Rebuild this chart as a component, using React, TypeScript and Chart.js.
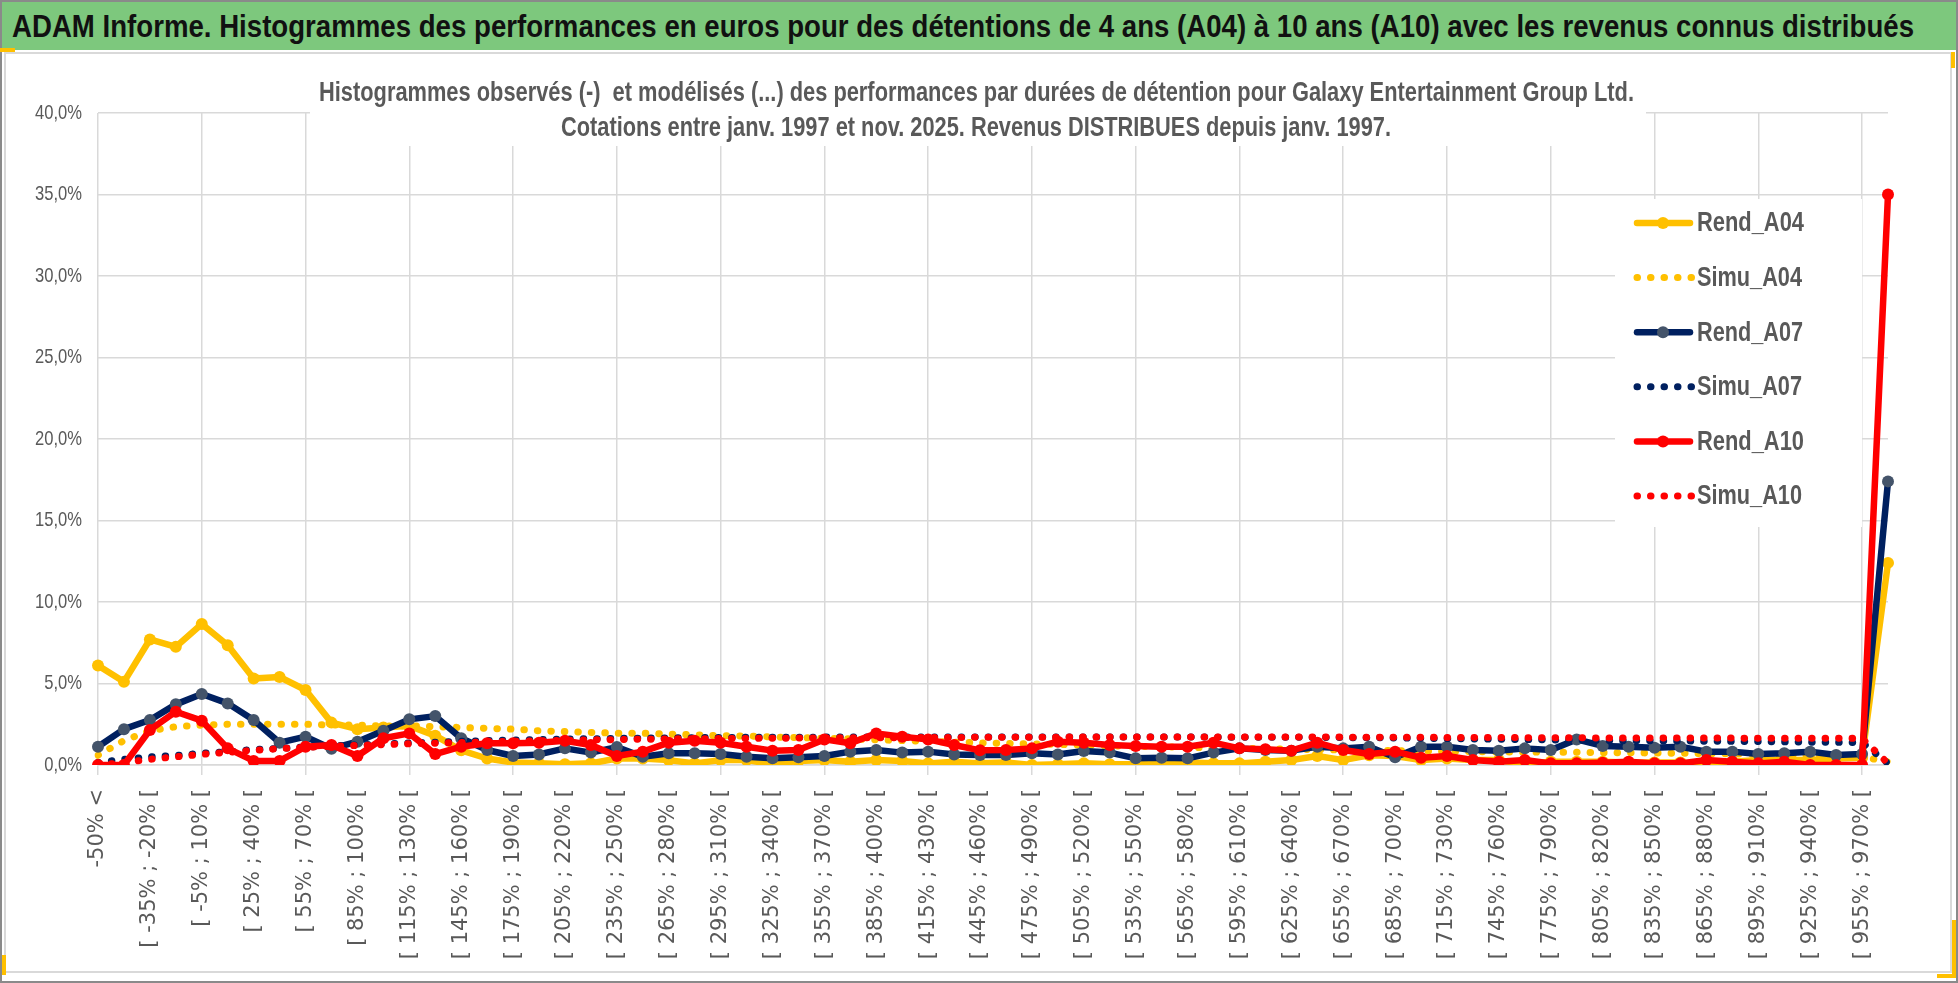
import React, { useEffect, useRef } from 'react';
import { Chart, registerables } from 'chart.js';

Chart.register(...registerables);

// ---------- DATA ----------
const FIRST_LABEL = '-50% <';
const BIN_LOWER_START = -50;
const BIN_WIDTH = 15;
const BIN_COUNT = 69;
const categories: string[] = [FIRST_LABEL];
for (let k = 0; k < BIN_COUNT; k++) {
  const a = BIN_LOWER_START + BIN_WIDTH * k;
  categories.push(`[ ${a}% ; ${a + BIN_WIDTH}% [`);
}

const yTicks = [0, 5, 10, 15, 20, 25, 30, 35, 40];

const rendA04 = [
  6.1, 5.1, 7.7, 7.25, 8.65, 7.35, 5.3, 5.4, 4.6, 2.6,
  2.2, 2.3, 2.4, 1.8, 0.9, 0.4, 0.15, 0.1, 0.05, 0.1,
  0.4, 0.4, 0.3, 0.1, 0.3, 0.3, 0.05, 0.25, 0.3, 0.2,
  0.3, 0.25, 0.1, 0.2, 0.1, 0.15, 0.0, 0.05, 0.1, 0.05,
  0.05, 0.1, 0.15, 0.1, 0.1, 0.2, 0.3, 0.55, 0.3, 0.6,
  0.55, 0.3, 0.4, 0.3, 0.3, 0.05, 0.2, 0.2, 0.2, 0.15,
  0.15, 0.15, 0.0, 0.2, 0.3, 0.3, 0.3, 0.4, 0.45, 12.4,
];
const simuA04 = [
  0.6, 1.5, 2.1, 2.35, 2.45, 2.5, 2.5, 2.5, 2.5, 2.45,
  2.45, 2.4, 2.4, 2.35, 2.3, 2.25, 2.2, 2.1, 2.05, 2.0,
  1.95, 1.95, 1.9, 1.85, 1.8, 1.78, 1.72, 1.68, 1.64, 1.6,
  1.55, 1.5, 1.45, 1.4, 1.36, 1.33, 1.3, 1.26, 1.22, 1.18,
  1.15, 1.12, 1.08, 1.05, 1.02, 1.0, 0.97, 0.95, 0.92, 0.9,
  0.88, 0.86, 0.84, 0.82, 0.8, 0.8, 0.78, 0.78, 0.76, 0.75,
  0.74, 0.72, 0.7, 0.68, 0.65, 0.62, 0.58, 0.55, 0.5, 0.2,
];
const rendA07 = [
  1.12, 2.2, 2.76, 3.72, 4.36, 3.78, 2.76, 1.37, 1.74, 1.0,
  1.43, 2.1, 2.8, 3.0, 1.64, 0.92, 0.55, 0.65, 1.02, 0.76,
  1.1, 0.51, 0.72, 0.72, 0.67, 0.51, 0.41, 0.47, 0.55, 0.82,
  0.92, 0.76, 0.82, 0.65, 0.61, 0.61, 0.72, 0.65, 0.86, 0.76,
  0.41, 0.45, 0.41, 0.76, 1.02, 0.92, 0.88, 1.12, 1.02, 1.12,
  0.47, 1.12, 1.12, 0.92, 0.88, 1.02, 0.92, 1.57, 1.17, 1.12,
  1.06, 1.12, 0.82, 0.82, 0.67, 0.72, 0.82, 0.61, 0.67, 17.4,
];
const simuA07 = [
  0.15, 0.35, 0.5, 0.58, 0.72, 0.82, 0.95, 1.02, 1.1, 1.17,
  1.23, 1.3, 1.35, 1.4, 1.45, 1.5, 1.53, 1.56, 1.59, 1.61,
  1.63, 1.65, 1.66, 1.68, 1.69, 1.7, 1.7, 1.71, 1.71, 1.72,
  1.72, 1.72, 1.72, 1.72, 1.72, 1.72, 1.72, 1.72, 1.72, 1.72,
  1.72, 1.72, 1.72, 1.71, 1.71, 1.7, 1.7, 1.69, 1.68, 1.67,
  1.66, 1.64, 1.62, 1.6, 1.58, 1.56, 1.54, 1.52, 1.5, 1.49,
  1.48, 1.47, 1.46, 1.45, 1.44, 1.42, 1.4, 1.39, 1.38, 0.1,
];
const rendA10 = [
  0.0, 0.0, 2.15, 3.27, 2.72, 1.02, 0.25, 0.25, 1.12, 1.23,
  0.55, 1.64, 1.94, 0.67, 1.12, 1.33, 1.33, 1.37, 1.49, 1.23,
  0.55, 0.82, 1.37, 1.49, 1.37, 1.12, 0.88, 0.92, 1.57, 1.33,
  1.94, 1.74, 1.57, 1.23, 0.9, 0.92, 1.02, 1.43, 1.37, 1.23,
  1.17, 1.12, 1.12, 1.37, 1.02, 0.96, 0.88, 1.37, 0.92, 0.67,
  0.82, 0.45, 0.55, 0.31, 0.2, 0.31, 0.1, 0.1, 0.14, 0.2,
  0.1, 0.1, 0.31, 0.2, 0.1, 0.2, 0.0, 0.0, 0.0, 35.0,
];
const simuA10 = [
  0.0, 0.15, 0.35, 0.5, 0.65, 0.78, 0.9, 1.0, 1.08, 1.15,
  1.2, 1.25, 1.3, 1.34, 1.38, 1.42, 1.46, 1.49, 1.52, 1.54,
  1.56, 1.58, 1.6, 1.61, 1.62, 1.63, 1.64, 1.65, 1.66, 1.67,
  1.67, 1.68, 1.69, 1.69, 1.7, 1.7, 1.71, 1.71, 1.72, 1.72,
  1.72, 1.72, 1.72, 1.72, 1.72, 1.72, 1.72, 1.72, 1.71, 1.71,
  1.7, 1.7, 1.69, 1.69, 1.68, 1.68, 1.67, 1.67, 1.66, 1.66,
  1.66, 1.65, 1.65, 1.65, 1.64, 1.64, 1.64, 1.64, 1.63, 0.1,
];

const bannerText =
  'ADAM Informe. Histogrammes des performances en euros pour des détentions de 4 ans (A04) à 10 ans (A10) avec les revenus connus distribués';
const titleLines = [
  'Histogrammes observés (-)  et modélisés (...) des performances par durées de détention pour Galaxy Entertainment Group Ltd.',
  'Cotations entre janv. 1997 et nov. 2025. Revenus DISTRIBUES depuis janv. 1997.',
];

// ---------- STYLE ----------
const YELLOW = '#FFC000';
const NAVY = '#002060';
const NAVY_MARK = '#44546A';
const RED = '#FF0000';
const GRID = '#d9d9d9';
const TEXT = '#595959';
const NARROW = '"Liberation Sans Narrow", "Liberation Sans"';

type LegendItem = { label: string; color: string; marker?: string; dotted: boolean; w: number };
const legendItems: LegendItem[] = [
  { label: 'Rend_A04', color: YELLOW, marker: YELLOW, dotted: false, w: 107 },
  { label: 'Simu_A04', color: YELLOW, dotted: true, w: 105 },
  { label: 'Rend_A07', color: NAVY, marker: NAVY_MARK, dotted: false, w: 106 },
  { label: 'Simu_A07', color: NAVY, dotted: true, w: 105 },
  { label: 'Rend_A10', color: RED, marker: RED, dotted: false, w: 107 },
  { label: 'Simu_A10', color: RED, dotted: true, w: 105 },
];

const fmtPct = (v: number) => v.toFixed(1).replace('.', ',') + '%';

function drawFitted(ctx: CanvasRenderingContext2D, text: string, x: number, y: number, width: number) {
  const w = ctx.measureText(text).width;
  const s = width / w;
  ctx.save();
  ctx.translate(x, y);
  ctx.scale(s, 1);
  ctx.textAlign = 'left';
  ctx.fillText(text, 0, 0);
  ctx.restore();
}

const overlayPlugin = {
  id: 'overlay',
  afterDraw(chart: any) {
    const ctx: CanvasRenderingContext2D = chart.ctx;
    const yScale = chart.scales.y;
    ctx.save();

    // y tick labels (condensed, right aligned at x = 82)
    ctx.fillStyle = TEXT;
    ctx.font = '21px "Liberation Sans"';
    ctx.textBaseline = 'middle';
    const ref = ctx.measureText('15,0%').width;
    const sx = 47 / ref;
    yTicks.forEach((v) => {
      const label = fmtPct(v);
      const w = ctx.measureText(label).width * sx;
      const y = yScale.getPixelForValue(v);
      ctx.save();
      ctx.translate(82 - w, y);
      ctx.scale(sx, 1);
      ctx.textAlign = 'left';
      ctx.fillText(label, 0, 0);
      ctx.restore();
    });

    // title
    ctx.fillStyle = '#ffffff';
    ctx.fillRect(310, 76, 1336, 70);
    ctx.fillStyle = TEXT;
    ctx.font = `bold 27px ${NARROW}`;
    ctx.textBaseline = 'middle';
    drawFitted(ctx, titleLines[0], 319, 94, 1315);
    drawFitted(ctx, titleLines[1], 561, 129, 830);

    // legend
    ctx.fillStyle = '#ffffff';
    ctx.fillRect(1615, 199, 247, 328);
    legendItems.forEach((it, k) => {
      const y = 223 + k * 54.6;
      ctx.strokeStyle = it.color;
      if (it.dotted) {
        ctx.lineWidth = 7;
        ctx.setLineDash([0.5, 13]);
        ctx.lineCap = 'round';
        ctx.beginPath();
        ctx.moveTo(1637, y);
        ctx.lineTo(1692, y);
        ctx.stroke();
      } else {
        ctx.lineWidth = 6.5;
        ctx.setLineDash([]);
        ctx.lineCap = 'round';
        ctx.beginPath();
        ctx.moveTo(1637, y);
        ctx.lineTo(1690, y);
        ctx.stroke();
        ctx.fillStyle = it.marker || it.color;
        ctx.beginPath();
        ctx.arc(1663, y, 6, 0, Math.PI * 2);
        ctx.fill();
      }
      ctx.setLineDash([]);
      ctx.fillStyle = TEXT;
      ctx.font = `bold 27px ${NARROW}`;
      ctx.textBaseline = 'middle';
      drawFitted(ctx, it.label, 1697, y + 1, it.w);
    });
    ctx.restore();
  },
};

function solid(label: string, data: number[], color: string, marker: string, order: number) {
  return {
    label,
    data,
    borderColor: color,
    backgroundColor: color,
    borderWidth: 6.5,
    borderJoinStyle: 'round' as const,
    borderCapStyle: 'round' as const,
    pointRadius: 6,
    pointBackgroundColor: marker,
    pointBorderColor: marker,
    pointBorderWidth: 0,
    pointHoverRadius: 6,
    tension: 0,
    fill: false,
    order,
  };
}

function dotted(label: string, data: number[], color: string, order: number) {
  return {
    label,
    data,
    borderColor: color,
    backgroundColor: color,
    borderWidth: 7,
    borderDash: [0.5, 13],
    borderCapStyle: 'round' as const,
    borderJoinStyle: 'round' as const,
    pointRadius: 0,
    tension: 0,
    fill: false,
    order,
  };
}

export default function App() {
  const canvasRef = useRef<HTMLCanvasElement | null>(null);

  useEffect(() => {
    if (!canvasRef.current) return;
    const chart = new Chart(canvasRef.current, {
      type: 'line',
      data: {
        labels: categories,
        datasets: [
          solid('Rend_A04', rendA04, YELLOW, YELLOW, 6),
          dotted('Simu_A04', simuA04, YELLOW, 5),
          solid('Rend_A07', rendA07, NAVY, NAVY_MARK, 4),
          dotted('Simu_A07', simuA07, NAVY, 3),
          solid('Rend_A10', rendA10, RED, RED, 2),
          dotted('Simu_A10', simuA10, RED, 1),
        ] as any,
      },
      options: {
        animation: false,
        responsive: false,
        maintainAspectRatio: false,
        layout: { padding: { left: 0, top: 113, right: 70, bottom: 18 } },
        plugins: {
          legend: { display: false },
          title: { display: false },
          tooltip: { enabled: false },
        },
        scales: {
          x: {
            type: 'category',
            offset: false,
            grid: {
              color: (c: any) => (c.index % 4 === 0 ? GRID : 'rgba(0,0,0,0)'),
              lineWidth: 1.5,
              tickLength: 10,
            },
            border: { display: true, color: GRID, width: 1.5 },
            ticks: {
              autoSkip: false,
              maxRotation: 90,
              minRotation: 90,
              padding: 14,
              color: TEXT,
              font: { family: '"DejaVu Sans"', size: 21 },
              callback: (_v: any, i: number) => (i % 2 === 0 ? categories[i] : ''),
            },
            afterFit: (s: any) => {
              s.height = 200;
            },
          },
          y: {
            min: yTicks[0],
            max: yTicks[yTicks.length - 1],
            afterBuildTicks: (s: any) => {
              s.ticks = yTicks.map((v) => ({ value: v }));
            },
            ticks: { display: false },
            grid: { color: GRID, lineWidth: 1.5, drawTicks: false },
            border: { display: false },
            afterFit: (s: any) => {
              s.width = 98;
            },
          },
        },
      },
      plugins: [overlayPlugin],
    } as any);
    if ((document as any).fonts && (document as any).fonts.ready) {
      (document as any).fonts.ready.then(() => chart.update());
    }
    return () => chart.destroy();
  }, []);

  return (
    <div
      style={{
        position: 'absolute',
        left: 0,
        top: 0,
        width: 1958,
        height: 983,
        background: '#ffffff',
        overflow: 'hidden',
      }}
    >
      <div
        style={{
          position: 'absolute',
          left: 0,
          top: 0,
          width: 1958,
          height: 983,
          boxSizing: 'border-box',
          border: '2px solid #8a8a8a',
        }}
      />
      <div
        style={{
          position: 'absolute',
          left: 4,
          top: 52,
          width: 1948,
          height: 921,
          boxSizing: 'border-box',
          border: '2px solid #d9d9d9',
        }}
      />
      <div style={{ position: 'absolute', left: 2, top: 2, width: 1954, height: 48, background: '#7dc87d' }}>
        <svg width={1954} height={48} style={{ display: 'block' }}>
          <text
            x={10}
            y={35}
            textLength={1902}
            lengthAdjust="spacingAndGlyphs"
            fontFamily="Liberation Sans Narrow, Liberation Sans"
            fontWeight="bold"
            fontSize={31}
            fill="#111111"
          >
            {bannerText}
          </text>
        </svg>
      </div>
      <div style={{ position: 'absolute', left: 0, top: 48, width: 15, height: 4, background: YELLOW }} />
      <div style={{ position: 'absolute', left: 1951, top: 52, width: 4, height: 16, background: YELLOW }} />
      <div style={{ position: 'absolute', left: 2, top: 955, width: 4, height: 20, background: YELLOW }} />
      <div style={{ position: 'absolute', left: 1952, top: 920, width: 4, height: 58, background: YELLOW }} />
      <div style={{ position: 'absolute', left: 1937, top: 974, width: 19, height: 4, background: YELLOW }} />
      <canvas
        ref={canvasRef}
        width={1958}
        height={983}
        style={{ position: 'absolute', left: 0, top: 0, width: 1958, height: 983 }}
      />
    </div>
  );
}
